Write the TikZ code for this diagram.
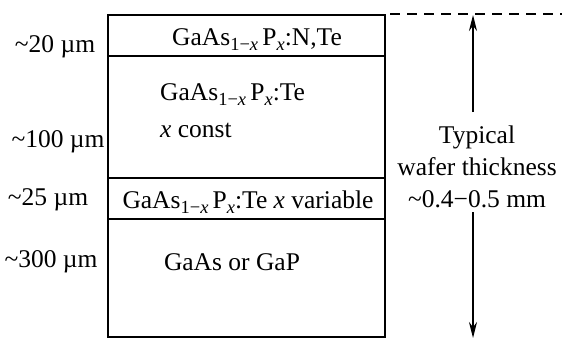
\documentclass[tikz,border=0pt]{standalone}
\usepackage{fontspec}
\setmainfont{Liberation Serif}
\usetikzlibrary{arrows.meta}
\newcommand\lsub[1]{\raisebox{-0.45ex}{\fontsize{18.5}{18.5}\selectfont #1}}
\newcommand\gaasp{GaAs\lsub{1−\textit{x}}\,P\lsub{\textit{x}}}
\tikzset{
  lbl/.style={anchor=base, inner sep=0pt, font=\fontsize{25.5}{33}\selectfont},
  lbll/.style={anchor=base west, inner sep=0pt, font=\fontsize{25.5}{33}\selectfont},
  wall/.style={line width=2.2pt},
  sep/.style={line width=2pt},
  dim/.style={line width=1.8pt},
}
\begin{document}
\begin{tikzpicture}[x=1pt,y=-1pt]
\useasboundingbox (0,0) rectangle (562,341);
% box
\coordinate (tl) at (108,15);
\coordinate (tr) at (385,15);
\coordinate (bl) at (108,337);
\coordinate (br) at (385,337);
\draw[wall] (tl) -- (tr) -- (br) -- (bl) -- cycle;
\coordinate (s1l) at (108,56);  \coordinate (s1r) at (385,56);
\coordinate (s2l) at (108,178); \coordinate (s2r) at (385,178);
\coordinate (s3l) at (108,219); \coordinate (s3r) at (385,219);
\draw[sep] (s1l) -- (s1r);
\draw[sep] (s2l) -- (s2r);
\draw[sep] (s3l) -- (s3r);
% dashed extension
\coordinate (dend) at (562,14);
\draw[dim, dash pattern=on 10pt off 7pt] (tr) ++(5,-1) coordinate (dstart) -- (dend);
% left labels
\node[lbl] (t20) at (55,52) {\textasciitilde20 µm};
\node[lbl] (t100) at (58,147) {\textasciitilde100 µm};
\node[lbl] (t25) at (48,205) {\textasciitilde25 µm};
\node[lbl] (t300) at (51,267) {\textasciitilde300 µm};
% layer texts
\node[lbl] (l1) at (257,45) {\gaasp:N,Te};
\node[lbll] (l2) at (160,100) {\gaasp:Te};
\node[lbll] (l2b) at (160,137) {\textit{x} const};
\node[lbl] (l3) at (248,208) {\gaasp:Te \textit{x} variable};
\node[lbl] (l4) at (232,270) {GaAs or GaP};
% thickness
\node[inner sep=0pt, align=center, font=\fontsize{25.5}{32}\selectfont] (thk) at (477,167) {Typical\\wafer thickness\\\textasciitilde0.4−0.5 mm};
\coordinate (atop) at (473,15);
\coordinate (abot) at (473,338);
\coordinate (a1) at (473,112);
\coordinate (a2) at (473,212);
\draw[dim,-{Stealth[length=16pt,width=8pt]}] (a1) -- (atop);
\draw[dim,-{Stealth[length=16pt,width=8pt]}] (a2) -- (abot);
\end{tikzpicture}
\end{document}
